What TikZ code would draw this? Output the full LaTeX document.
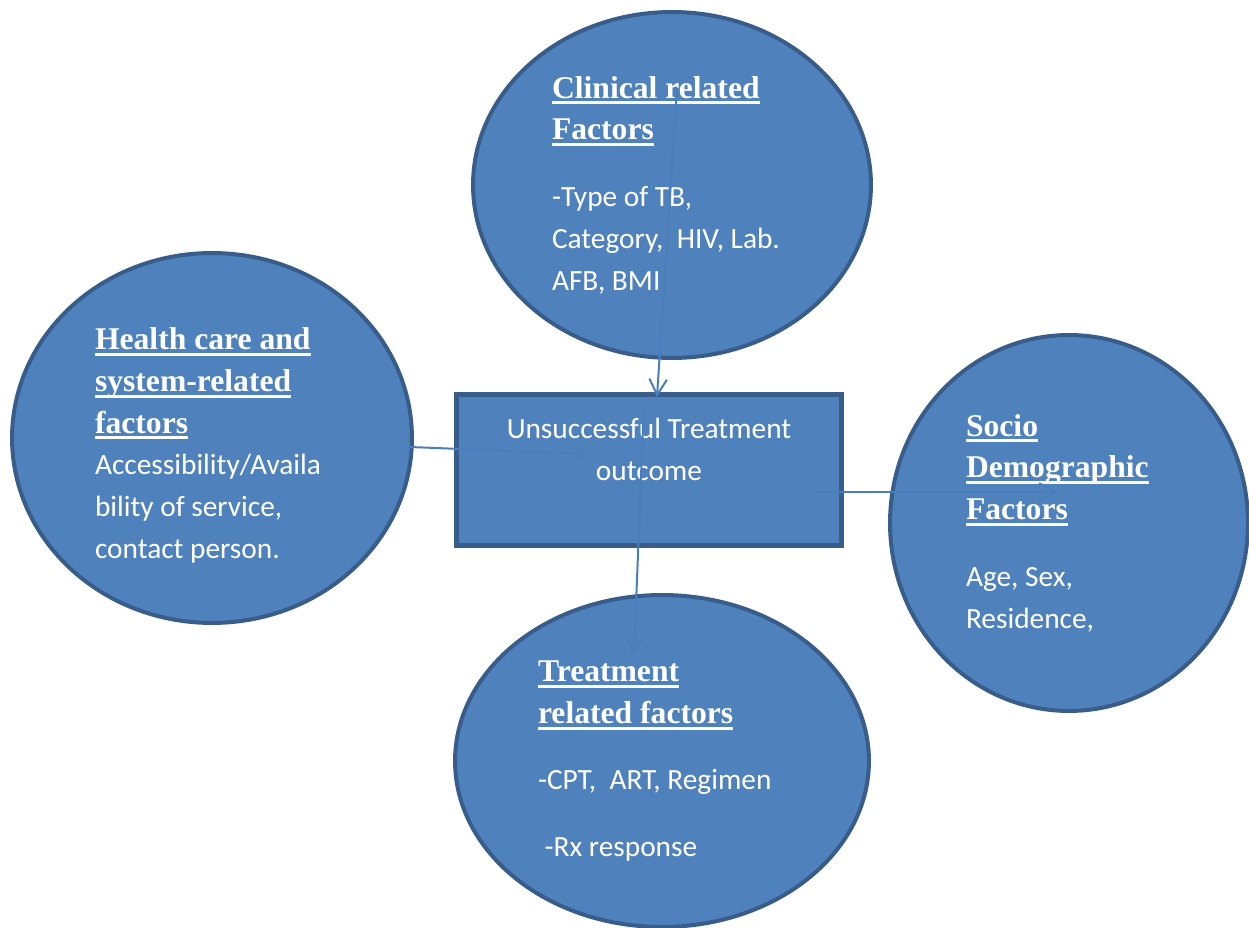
\documentclass[tikz,border=0pt]{standalone}
\usepackage{fontspec}
\setmainfont{Carlito}
\newfontfamily\hdfont{Liberation Serif}
\usepackage{tikz}
\usetikzlibrary{positioning,shapes.geometric}
\usetikzlibrary{arrows.meta}
\definecolor{bubble}{HTML}{4F81BD}
\definecolor{bubbleline}{HTML}{385D8A}
\definecolor{linkblue}{HTML}{4A7EBB}

\newcommand{\hdline}[1]{\leavevmode\setbox0\hbox{#1}\rlap{\rule[-0.2em]{\wd0}{0.1em}}\box0}
\newcommand{\hd}[1]{{\hdfont\bfseries\fontsize{18pt}{23.8pt}\selectfont\hdline{#1}}}

\begin{document}
\begin{tikzpicture}[x=0.02cm,y=-0.02cm,line width=0.08cm,
	factor/.style={ellipse,draw=bubbleline,fill=bubble,text=white,align=flush left,inner sep=0pt,font=\fontsize{16.7pt}{23.8pt}\selectfont},
	link/.style={-{Straight Barb[length=9pt,width=10pt]},draw=linkblue,line width=0.04cm}]
	\useasboundingbox (0,0) rectangle (1249,928);
	
	\node[factor,minimum width=7.96cm,minimum height=6.92cm,text width=4.8cm] (clinical) at(672,185) {\hd{Clinical related}\\\hd{Factors}\\[14pt]-Type of TB,\\Category,\ \ HIV, Lab.\\AFB, BMI};
	\node[factor,minimum width=8cm,minimum height=7.4cm,text width=4.68cm] (health) at(212,438) {\rule{0pt}{21pt}\hd{Health care and}\\\hd{system-related}\\\hd{factors}\\Accessibility/Availa\\bility of service,\\contact person.};
	\node[factor,minimum width=7.16cm,minimum height=7.52cm,text width=4.12cm] (socio) at(1069,523) {\hd{Socio}\\\hd{Demographic}\\\hd{Factors}\\[14pt]Age, Sex,\\Residence,};
	\node[factor,minimum width=8.28cm,minimum height=6.64cm,text width=4.96cm] (treatment) at(662,761) {\hd{Treatment}\\\hd{related factors}\\[14pt]-CPT,\ \ ART, Regimen\\[14pt]\ -Rx response};
	
	\node[rectangle,draw=bubbleline,fill=bubble,text=white,line width=0.1cm,align=center,minimum width=7.72cm,minimum height=3.04cm,font=\fontsize{16.7pt}{23.8pt}\selectfont] (outcome) at(649,470) {Unsuccessful Treatment\\outcome\\\mbox{}};
	
	\coordinate (clinicalout) at(677,88);
	\coordinate (outcomein) at(657,397);
	\coordinate (healthout) at(410,447);
	\coordinate (outcomeleft) at(587,454);
	\coordinate (outcomedown) at(644,403);
	\coordinate (treatmentin) at(634,655);
	\coordinate (outcomeright) at(812,492);
	\coordinate (socioin) at(1057,492);
	
	\draw [link] (clinicalout) -- (outcomein);
	\draw [link] (healthout) -- (outcomeleft);
	\draw [link] (outcomedown) -- (treatmentin);
	\draw [link] (outcomeright) -- (socioin);
	
\end{tikzpicture}
\end{document}
